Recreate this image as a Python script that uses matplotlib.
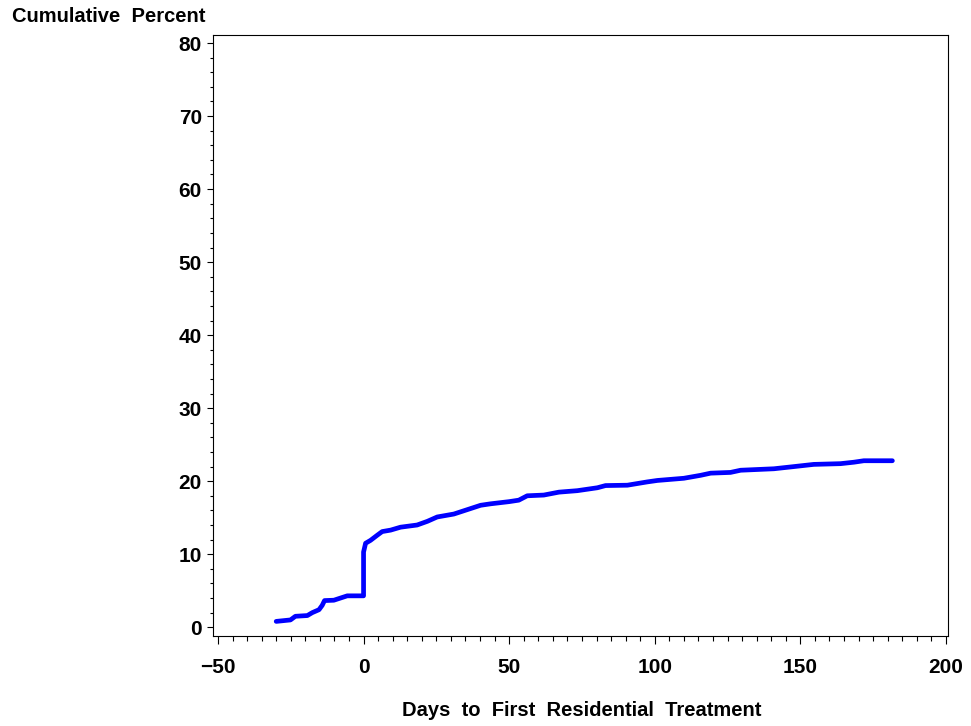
import matplotlib
matplotlib.use("Agg")
import matplotlib.pyplot as plt
from matplotlib.ticker import MultipleLocator

# Cumulative percent curve
days = [-30, -25.1, -23.4, -19.3, -17.6, -15.3, -14.2, -13.4, -10.2, -7.9, -5.6,
        0, 0, 0.7, 2.4, 4.7, 6.4, 9.3, 12.7, 18.4, 21.9, 25.3, 31.0, 35.6,
        40.2, 43.6, 50.0, 53.3, 56.2, 61.9, 67.1, 73.4, 80.3, 83.1, 90.6,
        97.4, 100.9, 110.0, 115.7, 119.2, 126.0, 129.5, 140.9, 147.8, 154.6,
        163.8, 168.4, 171.8, 181.6]
cum_pct = [0.8, 1.0, 1.5, 1.6, 2.0, 2.4, 3.0, 3.65, 3.7, 4.0, 4.3,
           4.3, 10.3, 11.5, 11.9, 12.6, 13.1, 13.3, 13.7, 14.0, 14.5, 15.1, 15.5, 16.1,
           16.7, 16.9, 17.2, 17.4, 18.0, 18.1, 18.5, 18.7, 19.1, 19.4, 19.45,
           19.9, 20.1, 20.4, 20.8, 21.1, 21.2, 21.5, 21.7, 22.0, 22.3,
           22.4, 22.6, 22.8, 22.8]

x_ticks = [-50, 0, 50, 100, 150, 200]
y_ticks = [0, 10, 20, 30, 40, 50, 60, 70, 80]

plt.rcParams['font.family'] = ['Liberation Sans', 'DejaVu Sans']
plt.rcParams['font.weight'] = 'bold'

fig = plt.figure(figsize=(9.71, 7.26), dpi=100)
ax = fig.add_axes([213 / 971, 1 - 636 / 726, 735 / 971, 601 / 726])

ax.plot(days, cum_pct, color='#0000ff', linewidth=3.4, solid_capstyle='round',
        solid_joinstyle='round')

ax.set_xlim(-51.7, 200.7)
ax.set_ylim(-1.2, 81.1)
ax.set_xticks(x_ticks)
ax.set_yticks(y_ticks)
ax.xaxis.set_minor_locator(MultipleLocator(5))
ax.yaxis.set_minor_locator(MultipleLocator(2))

for s in ax.spines.values():
    s.set_linewidth(0.8)
ax.tick_params(axis='both', which='major', labelsize=15, width=0.8, direction='out')
ax.tick_params(axis='y', which='major', length=4, pad=4)
ax.tick_params(axis='x', which='major', length=6, pad=10)
ax.tick_params(axis='y', which='minor', length=2.5, width=0.8)
ax.tick_params(axis='x', which='minor', length=3.5, width=0.8)
for lab in ax.get_xticklabels() + ax.get_yticklabels():
    lab.set_fontweight('bold')

fig.text(12 / 971, 1 - 17 / 726, 'Cumulative  Percent', fontsize=14.5, fontweight='bold',
         ha='left', va='center')
fig.text(582 / 971, 1 - 711 / 726, 'Days  to  First  Residential  Treatment', fontsize=14.5,
         fontweight='bold', ha='center', va='center')

fig.savefig('out.png', dpi=100)
